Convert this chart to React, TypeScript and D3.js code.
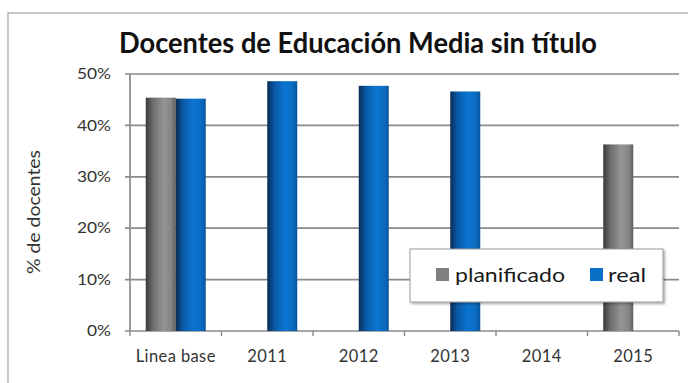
import React from "react";
import * as d3 from "d3";

const categories = ["Linea base", "2011", "2012", "2013", "2014", "2015"];
const seriesNames = ["planificado", "real"];
const planificado: (number | null)[] = [45.4, null, null, null, null, 36.3];
const real: (number | null)[] = [45.2, 48.6, 47.7, 46.6, null, null];
const yTicks = [0, 10, 20, 30, 40, 50];
const title = "Docentes de Educación Media sin título";
const yTitle = "% de docentes";

const W = 688;
const H = 383;
const M = { left: 130, right: 679, top: 74, bottom: 331 };
const FONT = "Lato, 'Open Sans', sans-serif";

export default function App() {
  const x = d3.scaleBand<string>().domain(categories).range([M.left, M.right]).padding(0);
  const x1 = d3
    .scaleBand<string>()
    .domain(seriesNames)
    .range([0, x.bandwidth()])
    .paddingInner(0)
    .paddingOuter(0.525);
  const y = d3.scaleLinear().domain([0, 50]).range([M.bottom, M.top]);

  const seriesData: Record<string, (number | null)[]> = { planificado, real };
  const fills: Record<string, string> = { planificado: "url(#gGray)", real: "url(#gBlue)" };
  const legendColors: Record<string, string> = { planificado: "#7f7f7f", real: "#0a6fc6" };

  const tickXs = categories.map((c) => x(c) as number).concat([M.right]);

  return (
    <svg width={W} height={H} style={{ position: "absolute", left: 0, top: 0, display: "block" }}>
      <defs>
        <linearGradient id="gGray" x1="0" x2="1" y1="0" y2="0">
          <stop offset="0" stopColor="#3a3a3a" />
          <stop offset="0.25" stopColor="#6e6e6e" />
          <stop offset="0.6" stopColor="#959595" />
          <stop offset="0.85" stopColor="#858585" />
          <stop offset="1" stopColor="#5e5e5e" />
        </linearGradient>
        <linearGradient id="gBlue" x1="0" x2="1" y1="0" y2="0">
          <stop offset="0" stopColor="#082c55" />
          <stop offset="0.25" stopColor="#0a5aa6" />
          <stop offset="0.6" stopColor="#0b76d2" />
          <stop offset="0.85" stopColor="#0a6cc0" />
          <stop offset="1" stopColor="#08559a" />
        </linearGradient>
        <filter id="shadow" x="-10%" y="-20%" width="130%" height="160%">
          <feDropShadow dx="1.5" dy="1.5" stdDeviation="1.2" floodColor="#000" floodOpacity="0.35" />
        </filter>
      </defs>
      <rect x={0} y={0} width={W} height={H} fill="#fff" />
      {/* outer frame */}
      <rect x={8} y={13} width={W} height={H} fill="#fff" stroke="#b8b8b8" strokeWidth={1.5} filter="url(#shadow)" />
      <text x={119} y={53} fontFamily={FONT} fontWeight={700} fontSize={28} fill="#111" textLength={478} lengthAdjust="spacingAndGlyphs">
        {title}
      </text>
      {/* gridlines */}
      {yTicks.map((t) => (
        <line key={"g" + t} x1={M.left - 5} x2={M.right} y1={y(t)} y2={y(t)} stroke="#8a8a8a" strokeWidth={1.7} />
      ))}
      {/* y axis */}
      <line x1={M.left} x2={M.left} y1={M.top} y2={M.bottom} stroke="#8a8a8a" strokeWidth={1.7} />
      {yTicks.map((t) => (
        <text key={"yl" + t} x={111} y={y(t)} dy="0.35em" textAnchor="end" fontFamily={FONT} fontSize={15} fill="#333" textLength={t === 0 ? 24 : 34} lengthAdjust="spacingAndGlyphs">
          {t + "%"}
        </text>
      ))}
      <text
        transform={`translate(40,212) rotate(-90)`}
        textAnchor="middle"
        fontFamily={FONT}
        fontSize={17}
        fill="#333"
        textLength={124}
        lengthAdjust="spacingAndGlyphs"
      >
        {yTitle}
      </text>
      {/* x ticks */}
      {tickXs.map((tx, i) => (
        <line key={"xt" + i} x1={tx} x2={tx} y1={M.bottom} y2={M.bottom + 5} stroke="#8a8a8a" strokeWidth={1.4} />
      ))}
      {categories.map((c) => (
        <text key={"xl" + c} x={(x(c) as number) + x.bandwidth() / 2} y={362} textAnchor="middle" fontFamily={FONT} fontSize={16.5} fill="#333" letterSpacing={0.4}>
          {c}
        </text>
      ))}
      {/* bars */}
      {seriesNames.map((s) =>
        categories.map((c, i) => {
          const v = seriesData[s][i];
          if (v == null) return null;
          const bx = (x(c) as number) + (x1(s) as number);
          return (
            <rect key={s + c} x={bx} y={y(v)} width={x1.bandwidth()} height={y(0) - y(v)} fill={fills[s]} />
          );
        })
      )}
      {/* legend */}
      <g>
        <rect x={410} y={249} width={253} height={53} fill="#fff" stroke="#999" strokeWidth={1} filter="url(#shadow)" />
        <rect x={436} y={268} width={13} height={13} fill={legendColors.planificado} />
        <text x={455} y={282} fontFamily={FONT} fontSize={20} fill="#1a1a1a" textLength={110} lengthAdjust="spacingAndGlyphs">
          {seriesNames[0]}
        </text>
        <rect x={590} y={268} width={13} height={13} fill={legendColors.real} />
        <text x={608} y={282} fontFamily={FONT} fontSize={20} fill="#1a1a1a" textLength={38} lengthAdjust="spacingAndGlyphs">
          {seriesNames[1]}
        </text>
      </g>
    </svg>
  );
}
